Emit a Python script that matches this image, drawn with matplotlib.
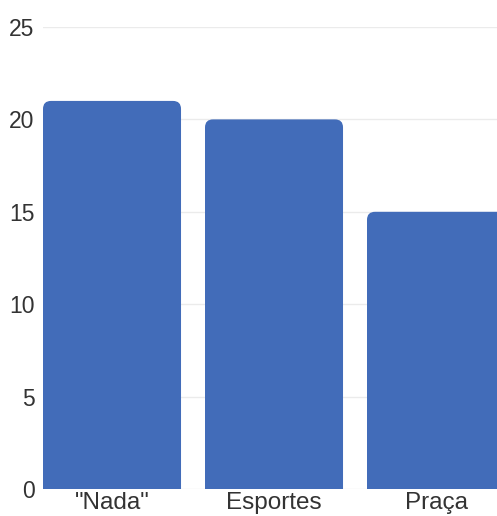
import matplotlib.pyplot as plt
from matplotlib.patches import FancyBboxPatch

plt.rcParams['font.family'] = ['Liberation Sans', 'DejaVu Sans']

categories = ['"Nada"', 'Esportes', 'Praça']
counts = [21, 20, 15]

bar_color = '#426cb9'
fig_w, fig_h = 497, 516
fig = plt.figure(figsize=(fig_w / 100, fig_h / 100), dpi=100)
ax = fig.add_axes([43 / fig_w, 27 / fig_h, 1 - 43 / fig_w, (489 - 27) / fig_h])

width = 0.852
x = list(range(len(categories)))
bars = ax.bar(x, counts, width=width, color=bar_color, alpha=0)

ax.set_xlim(-width / 2, -width / 2 + (fig_w - 43) / 162)
ax.set_ylim(0, 25)

# swap the plain bars for rounded ones (bottom corners pushed below the axis)
px_x = 1 / 162
px_y = 25 / 462
radius_px = 8
for b in bars:
    x0, w, h = b.get_x(), b.get_width(), b.get_height()
    ext = radius_px * px_y
    patch = FancyBboxPatch((x0, -ext), w, h + ext,
                           boxstyle=f'round,pad=0,rounding_size={radius_px * px_x}',
                           mutation_aspect=px_y / px_x,
                           facecolor=bar_color, edgecolor='none', zorder=3)
    ax.add_patch(patch)

ax.set_yticks([0, 5, 10, 15, 20, 25])
ax.set_xticks(x)
ax.set_xticklabels(categories)
ax.grid(axis='y', color='#ebebeb', linewidth=1)
ax.set_axisbelow(True)
for s in ax.spines.values():
    s.set_visible(False)
ax.tick_params(length=0, colors='#333333')
ax.tick_params(axis='y', pad=6, labelsize=16.5)
ax.tick_params(axis='x', pad=2.5, labelsize=17.5)

fig.savefig('out.png', dpi=100)
